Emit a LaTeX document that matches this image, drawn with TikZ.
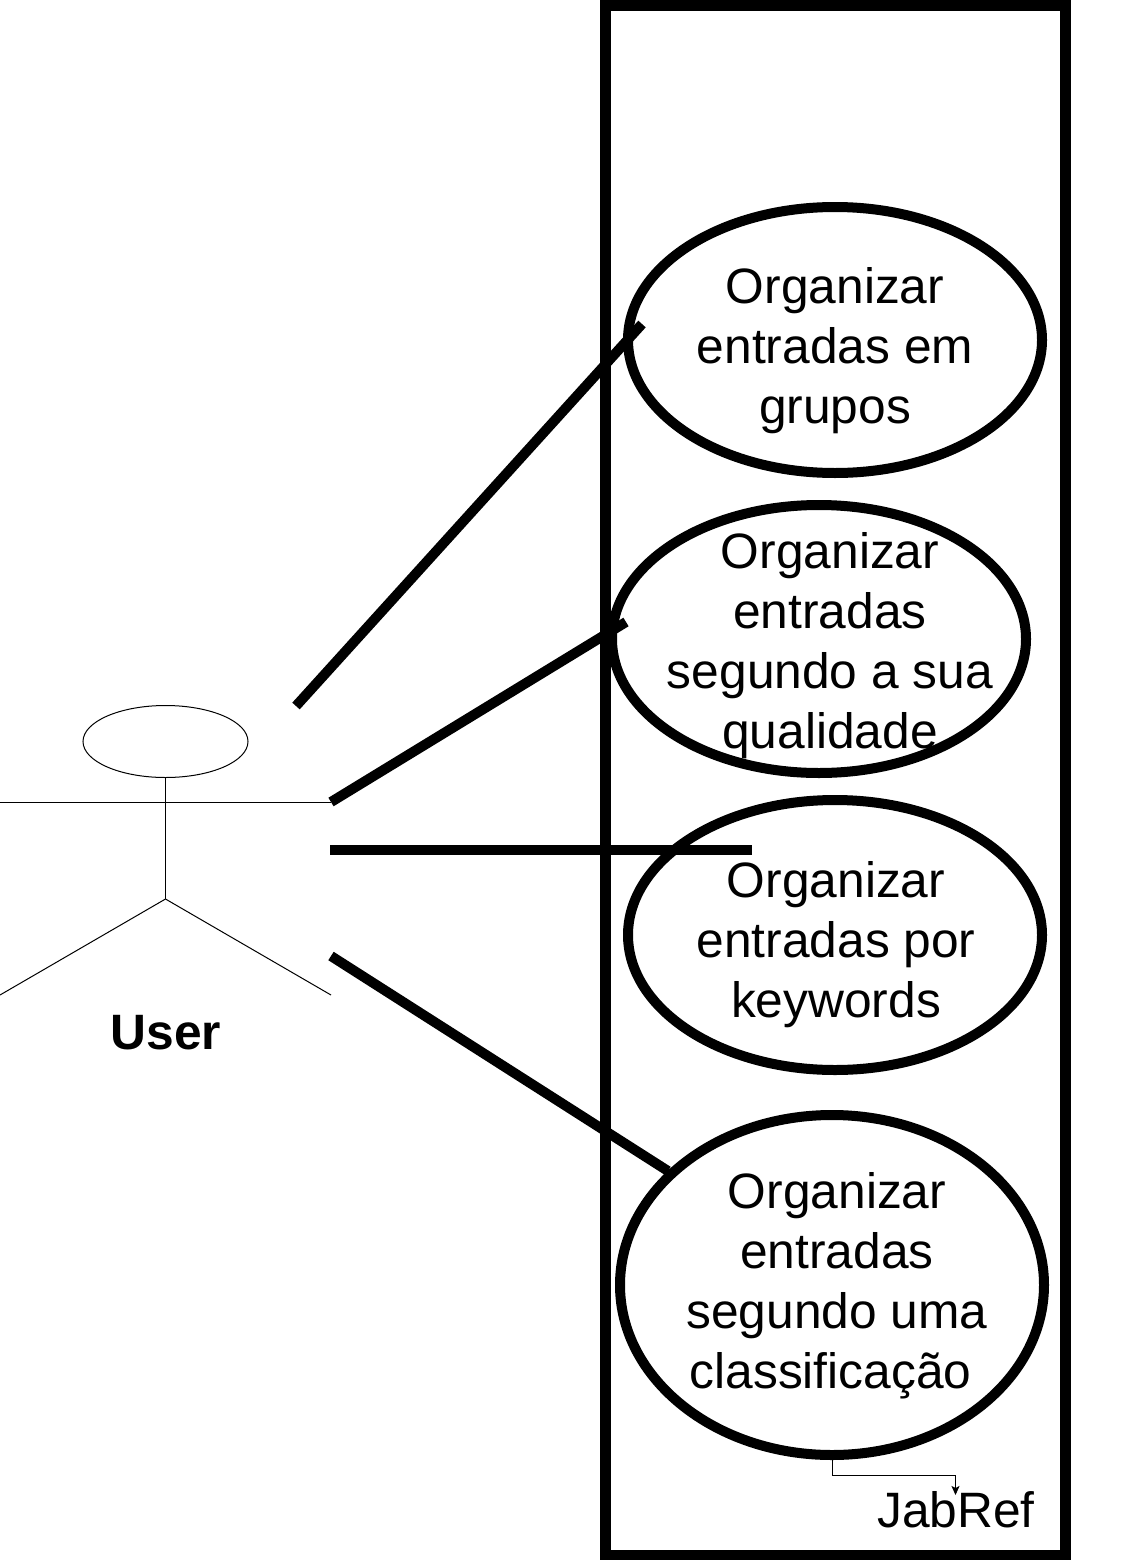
\documentclass[tikz,border=0pt]{standalone}
\usepackage{fontspec}
\setmainfont{Liberation Sans}
\usetikzlibrary{shapes.geometric,arrows.meta}
\begin{document}
\begin{tikzpicture}[x=1pt,y=-1pt,
  thin line/.style={draw=black,line width=1pt},
  thick line/.style={draw=black,line width=10pt},
  usecase/.style={ellipse,draw=black,line width=10pt,inner sep=0pt,outer sep=0pt},
  lbl/.style={font=\fontsize{49.7pt}{60pt}\selectfont,align=center,inner sep=0pt,text=black}]
\useasboundingbox (0,0) rectangle (1127,1560);
\node[draw=black,line width=10.5pt,minimum width=460.4pt,minimum height=1550.2pt,inner sep=0pt,outer sep=0pt] (sys) at (835.5,780.4) {};
\node[usecase,minimum width=414pt,minimum height=266pt] (u1) at (835,340) {};
\node[usecase,minimum width=414pt,minimum height=268pt] (u2) at (819,639) {};
\node[usecase,minimum width=414pt,minimum height=270pt] (u3) at (835,935) {};
\node[usecase,minimum width=424pt,minimum height=340pt] (u4) at (832,1285) {};
\node[lbl] (t1) at (835,351) {Organizar\\entradas em\\grupos};
\node[lbl] (t2) at (830,646) {Organizar\\entradas\\segundo a sua\\qualidade};
\node[lbl] (t3) at (836,945) {Organizar\\entradas por\\keywords};
\node[lbl] (t4) at (837,1286) {Organizar\\entradas\\segundo uma\\classificação\hspace*{13pt}\mbox{}};
\node[lbl,anchor=base] (jab) at (956,1527) {JabRef};
\node[lbl,font=\fontsize{49.7pt}{60pt}\selectfont\bfseries,anchor=base] (user) at (166,1049) {User};
\node[ellipse,thin line,minimum width=165pt,minimum height=72pt,inner sep=0pt,outer sep=0pt] (head) at (165.5,741.5) {};
\coordinate (hip) at (165.5,899);
\coordinate (armL) at (0,802);
\coordinate (armR) at (331,802);
\coordinate (legL) at (0,995);
\coordinate (legR) at (331,995);
\draw[thin line] (head.south) -- (hip);
\draw[thin line] (armL) -- (armR);
\draw[thin line] (legL) -- (hip) -- (legR);
\coordinate (c1a) at (296,706); \coordinate (c1b) at (642,324);
\coordinate (c2a) at (331,802); \coordinate (c2b) at (626,622);
\coordinate (c3a) at (330,850); \coordinate (c3b) at (752,850);
\coordinate (c4a) at (331,956); \coordinate (c4b) at (668,1171);
\draw[thick line] (c1a) -- (c1b);
\draw[thick line] (c2a) -- (c2b);
\draw[thick line] (c3a) -- (c3b);
\draw[thick line] (c4a) -- (c4b);
\coordinate (c0) at (832.5,1459);
\coordinate (c5) at (832.5,1475);
\coordinate (c6) at (955.5,1475);
\coordinate (c7) at (955.5,1495);
\draw[thin line,-{Stealth[length=9pt,width=8pt,inset=2pt]}] (c0) -- (c5) -- (c6) -- (c7);
\end{tikzpicture}
\end{document}
